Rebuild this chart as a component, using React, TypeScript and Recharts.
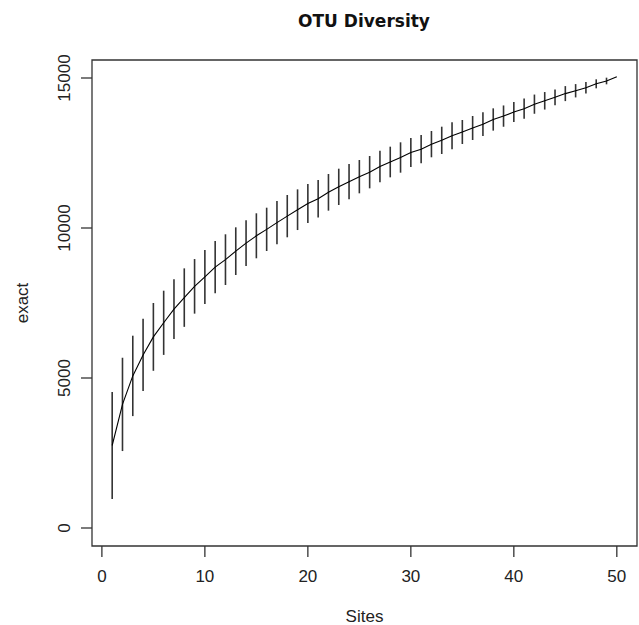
import React from 'react';
import { ComposedChart, Line, ErrorBar, XAxis, YAxis, ReferenceArea } from 'recharts';

const sites = [1, 2, 3, 4, 5, 6, 7, 8, 9, 10, 11, 12, 13, 14, 15, 16, 17, 18, 19, 20, 21, 22, 23, 24, 25, 26, 27, 28, 29, 30, 31, 32, 33, 34, 35, 36, 37, 38, 39, 40, 41, 42, 43, 44, 45, 46, 47, 48, 49, 50];
const richness = [2750, 4120, 5070, 5770, 6370, 6840, 7295, 7680, 8055, 8370, 8695, 8945, 9228, 9495, 9740, 9955, 10178, 10395, 10610, 10815, 10975, 11189, 11372, 11545, 11711, 11861, 12050, 12200, 12350, 12517, 12628, 12795, 12922, 13072, 13200, 13333, 13461, 13617, 13730, 13865, 13978, 14128, 14240, 14355, 14480, 14575, 14675, 14806, 14900, 15044];
const sdev = [1780, 1555, 1340, 1205, 1130, 1070, 995, 975, 910, 900, 870, 845, 795, 760, 750, 722, 722, 705, 678, 650, 625, 611, 605, 590, 555, 539, 528, 511, 506, 483, 472, 438, 455, 450, 400, 400, 395, 372, 355, 333, 340, 320, 292, 265, 250, 222, 188, 150, 111, 0];
const xTicks = [0, 10, 20, 30, 40, 50];
const yTicks = [0, 5000, 10000, 15000];
const title = 'OTU Diversity';
const xLabel = 'Sites';
const yLabel = 'exact';

const data = sites.map((s, i) => ({ site: s, mean: richness[i], sd: sdev[i] }));

const FONT = '"Liberation Sans", Arial, sans-serif';
const TXT = '#222';

const XTick = (props: any) => {
  const { x, payload } = props;
  return (
    <text x={x} y={582} textAnchor="middle" fontFamily={FONT} fontSize={17} fill={TXT}>
      {payload.value}
    </text>
  );
};

const YTick = (props: any) => {
  const { y, payload } = props;
  const bx = 70;
  return (
    <text x={bx} y={y} transform={`rotate(-90 ${bx} ${y})`} textAnchor="middle" fontFamily={FONT} fontSize={17} fill={TXT}>
      {payload.value}
    </text>
  );
};

export default function App() {
  return (
    <div style={{ position: 'absolute', left: 0, top: 0, width: 639, height: 625, background: '#fff' }}>
      <ComposedChart width={639} height={625} data={data} margin={{ top: 60, right: 2, left: 0, bottom: 0 }}>
        <XAxis
          dataKey="site"
          type="number"
          domain={[-0.96, 51.96]}
          ticks={xTicks}
          allowDataOverflow
          axisLine={false}
          tickLine={{ stroke: '#333', strokeWidth: 1.3 }}
          tickSize={11}
          height={79}
          tick={<XTick />}
          label={(p: any) => {
            const vb = p.viewBox;
            return (
              <text x={vb.x + vb.width / 2} y={vb.y + 76} textAnchor="middle" fontFamily={FONT} fontSize={17} fill={TXT}>
                {xLabel}
              </text>
            );
          }}
        />
        <YAxis
          type="number"
          domain={[-600, 15600]}
          ticks={yTicks}
          allowDataOverflow
          axisLine={false}
          tickLine={{ stroke: '#333', strokeWidth: 1.3 }}
          tickSize={11}
          width={92}
          tick={<YTick />}
          label={(p: any) => {
            const vb = p.viewBox;
            const cx = 28;
            const cy = vb.y + vb.height / 2;
            return (
              <text x={cx} y={cy} transform={`rotate(-90 ${cx} ${cy})`} textAnchor="middle" fontFamily={FONT} fontSize={17} fill={TXT}>
                {yLabel}
              </text>
            );
          }}
        />
        <ReferenceArea x1={-0.96} x2={51.96} y1={-600} y2={15600} fill="none" stroke="#333" strokeWidth={1.3} ifOverflow="visible" />
        <Line dataKey="mean" stroke="#000" strokeWidth={1.1} dot={false} isAnimationActive={false}>
          <ErrorBar dataKey="sd" direction="y" width={0} stroke="#333" strokeWidth={1.6} isAnimationActive={false} />
        </Line>
      </ComposedChart>
      <svg width={639} height={40} style={{ position: 'absolute', left: 0, top: 0 }}>
        <text x={364} y={27} textAnchor="middle" fontFamily='"DejaVu Sans", sans-serif' fontWeight="bold" fontSize={17} fill="#111">
          {title}
        </text>
      </svg>
    </div>
  );
}
